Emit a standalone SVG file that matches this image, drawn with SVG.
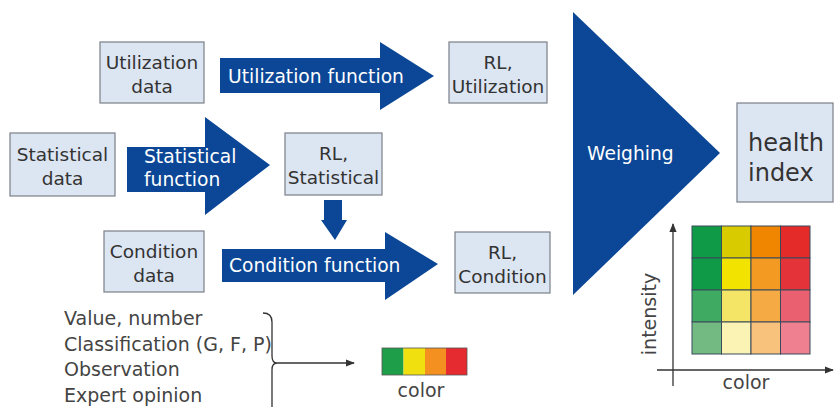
<svg xmlns="http://www.w3.org/2000/svg" width="835" height="407" viewBox="0 0 835 407">
<defs>
<style>
.box{fill:#dce5f2;stroke:#7a7f88;stroke-width:1.2}
.bt{font-family:"DejaVu Sans",Verdana,sans-serif;font-size:18.5px;fill:#333;text-anchor:middle}
.arr{fill:#0b4796}
.at{font-family:"DejaVu Sans",Verdana,sans-serif;font-size:18.7px;fill:#fff}
.lt{font-family:"DejaVu Sans",Verdana,sans-serif;font-size:19px;fill:#444}
.ln{stroke:#333;stroke-width:1.3;fill:none}
</style>
<marker id="ah" viewBox="0 0 10 10" refX="9" refY="5" markerWidth="7" markerHeight="7" orient="auto"><path d="M0,1 L10,5 L0,9 z" fill="#333"/></marker>
</defs>
<rect width="835" height="407" fill="#fff"/>

<g id="utilization-data"><rect class="box" x="100" y="42" width="104" height="61"/><text class="bt" x="152" y="69">Utilization</text><text class="bt" x="152" y="93">data</text></g>
<g id="utilization-function"><path class="arr" d="M220,58 H380 V42 L434,76 L380,110 V93 H220 Z"/><text class="at" x="228" y="83">Utilization function</text></g>
<g id="rl-utilization"><rect class="box" x="449" y="42" width="98" height="61"/><text class="bt" x="498" y="69">RL,</text><text class="bt" x="498" y="93">Utilization</text></g>

<g id="statistical-data"><rect class="box" x="10" y="133" width="105" height="63"/><text class="bt" x="62.5" y="161">Statistical</text><text class="bt" x="62.5" y="185">data</text></g>
<g id="statistical-function"><path class="arr" d="M127,147 H205 V117 L270,165 L205,215 V192 H127 Z"/><text class="at" x="144" y="163">Statistical</text><text class="at" x="144" y="186">function</text></g>
<g id="rl-statistical"><rect class="box" x="285" y="133" width="97" height="62"/><text class="bt" x="333.5" y="160">RL,</text><text class="bt" x="333.5" y="184">Statistical</text></g>
<g id="down-arrow"><path class="arr" d="M324,200 H342 V220 H347 L335,240 L321,220 H324 Z"/></g>

<g id="condition-data"><rect class="box" x="104" y="231" width="100" height="61"/><text class="bt" x="154" y="258">Condition</text><text class="bt" x="154" y="282">data</text></g>
<g id="condition-function"><path class="arr" d="M222,249 H385 V232 L438,264 L385,300 V282 H222 Z"/><text class="at" x="229" y="272">Condition function</text></g>
<g id="rl-condition"><rect class="box" x="455" y="232" width="95" height="61"/><text class="bt" x="502.5" y="259">RL,</text><text class="bt" x="502.5" y="283">Condition</text></g>

<g id="weighing"><path class="arr" d="M573,12 L720,153 L573,295 Z"/><text class="at" x="587" y="160" font-size="23.5">Weighing</text></g>
<g id="health-index"><rect class="box" x="737" y="103" width="96" height="99"/><text x="748" y="151" font-family="DejaVu Sans,Verdana,sans-serif" font-size="24" fill="#333">health</text><text x="748" y="181" font-family="DejaVu Sans,Verdana,sans-serif" font-size="24" fill="#333">index</text></g>

<g id="matrix">
<line class="ln" x1="673" y1="386" x2="673" y2="224" marker-end="url(#ah)"/>
<line class="ln" x1="657" y1="370" x2="833" y2="370" marker-end="url(#ah)"/>
<g stroke="#3a4a5a" stroke-width="1">
<rect x="692" y="226" width="29.5" height="32" fill="#0e9a47"/><rect x="721.5" y="226" width="29.5" height="32" fill="#d8cc00"/><rect x="751" y="226" width="29.5" height="32" fill="#f08500"/><rect x="780.5" y="226" width="29.5" height="32" fill="#e52a2a"/>
<rect x="692" y="258" width="29.5" height="32" fill="#0e9a47"/><rect x="721.5" y="258" width="29.5" height="32" fill="#f3e300"/><rect x="751" y="258" width="29.5" height="32" fill="#f39a22"/><rect x="780.5" y="258" width="29.5" height="32" fill="#e5333a"/>
<rect x="692" y="290" width="29.5" height="32" fill="#3eaa62"/><rect x="721.5" y="290" width="29.5" height="32" fill="#f5e566"/><rect x="751" y="290" width="29.5" height="32" fill="#f5aa44"/><rect x="780.5" y="290" width="29.5" height="32" fill="#ea6070"/>
<rect x="692" y="322" width="29.5" height="32" fill="#72ba82"/><rect x="721.5" y="322" width="29.5" height="32" fill="#faf3b4"/><rect x="751" y="322" width="29.5" height="32" fill="#f9c27c"/><rect x="780.5" y="322" width="29.5" height="32" fill="#ee8090"/>
</g>
<text class="lt" transform="translate(656,314) rotate(-90)" text-anchor="middle" font-size="16.5">intensity</text>
<text class="lt" x="746" y="389" text-anchor="middle" font-size="16.5">color</text>
</g>

<g id="inputs">
<text class="lt" x="64" y="325">Value, number</text>
<text class="lt" x="64" y="351">Classification (G, F, P)</text>
<text class="lt" x="64" y="376">Observation</text>
<text class="lt" x="64" y="402">Expert opinion</text>
</g>
<g id="connectors">
<path class="ln" d="M263,313 Q272,313 272,322 V356 Q272,363 277,363 Q272,363 272,370 V407"/>
<line class="ln" x1="277" y1="363" x2="354" y2="363" marker-end="url(#ah)"/>
</g>
<g id="color-bar">
<rect x="382" y="348" width="21.5" height="27" fill="#1e9e48"/><rect x="403.5" y="348" width="21.5" height="27" fill="#f0e010"/><rect x="425" y="348" width="21" height="27" fill="#f39020"/><rect x="446" y="348" width="21" height="27" fill="#e52a30"/>
<rect x="382" y="348" width="85" height="27" fill="none" stroke="#555" stroke-width="0.8"/>
<text class="lt" x="421" y="397" text-anchor="middle" font-size="17">color</text>
</g>
</svg>
